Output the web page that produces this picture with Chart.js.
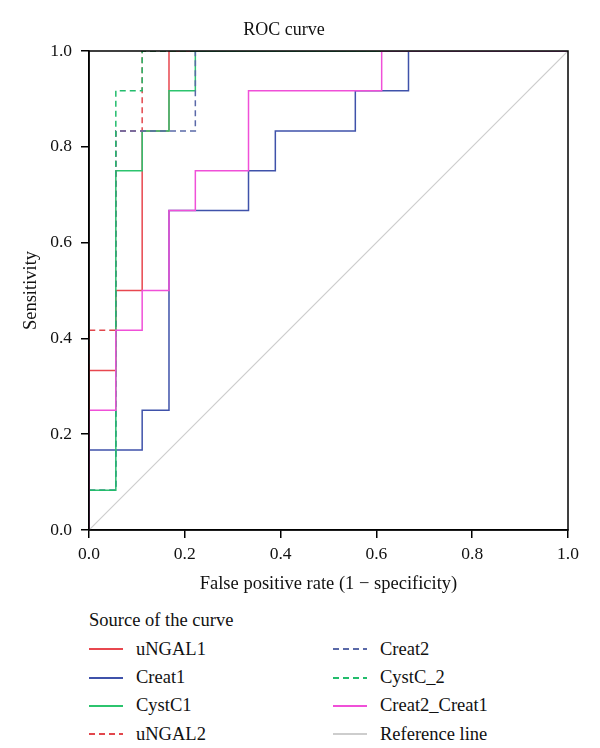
<!DOCTYPE html>
<html>
<head>
<meta charset="utf-8">
<title>ROC curve</title>
<script src="https://cdn.jsdelivr.net/npm/chart.js@4.4.1/dist/chart.umd.min.js"></script>
<style>
  body { margin: 0; background: #fff; font-family: "Liberation Serif", serif; }
  #wrap { position: relative; width: 600px; height: 748px; }
  #roc { position: absolute; left: 0; top: 0; }
  #legend { position: absolute; left: 89px; top: 607px; color: #111; font-size: 18.5px; }
  #legend .head { height: 28px; line-height: 26px; }
  #legend .grid { display: grid; grid-template-rows: repeat(4, 28.4px); grid-auto-flow: column; grid-template-columns: 244px 220px; }
  #legend .item { display: flex; align-items: center; }
  #legend svg { width: 34px; height: 6px; margin-right: 13px; }
</style>
</head>
<body>
<div id="wrap">
  <canvas id="roc" width="600" height="600"></canvas>
  <div id="legend"></div>
</div>
<script>
// ROC points (false positive rate, sensitivity)
const uNGAL1_fpr = [0, 0, 0.056, 0.056, 0.111, 0.111, 0.167, 0.167, 1];
const uNGAL1_tpr = [0, 0.333, 0.333, 0.5, 0.5, 0.833, 0.833, 1, 1];

const Creat1_fpr = [0, 0, 0.111, 0.111, 0.167, 0.167, 0.333, 0.333, 0.389, 0.389, 0.556, 0.556, 0.667, 0.667, 1];
const Creat1_tpr = [0, 0.167, 0.167, 0.25, 0.25, 0.667, 0.667, 0.75, 0.75, 0.833, 0.833, 0.917, 0.917, 1, 1];

const CystC1_fpr = [0, 0, 0.056, 0.056, 0.111, 0.111, 0.167, 0.167, 0.222, 0.222, 1];
const CystC1_tpr = [0, 0.083, 0.083, 0.75, 0.75, 0.833, 0.833, 0.917, 0.917, 1, 1];

const uNGAL2_fpr = [0, 0, 0.056, 0.056, 0.111, 0.111, 1];
const uNGAL2_tpr = [0, 0.417, 0.417, 0.833, 0.833, 1, 1];

const Creat2_fpr = [0, 0, 0.056, 0.056, 0.222, 0.222, 1];
const Creat2_tpr = [0, 0.083, 0.083, 0.833, 0.833, 1, 1];

const CystC_2_fpr = [0, 0, 0.056, 0.056, 0.111, 0.111, 1];
const CystC_2_tpr = [0, 0.083, 0.083, 0.917, 0.917, 1, 1];

const Creat2_Creat1_fpr = [0, 0, 0.056, 0.056, 0.111, 0.111, 0.167, 0.167, 0.222, 0.222, 0.333, 0.333, 0.611, 0.611, 1];
const Creat2_Creat1_tpr = [0, 0.25, 0.25, 0.417, 0.417, 0.5, 0.5, 0.667, 0.667, 0.75, 0.75, 0.917, 0.917, 1, 1];

const refLine_fpr = [0, 1];
const refLine_tpr = [0, 1];

const axisTicks = [0, 0.2, 0.4, 0.6, 0.8, 1.0];

// legend order = drawing order (later ones end up on top, like the original)
const curves = [
  { name: 'uNGAL1', fpr: uNGAL1_fpr, tpr: uNGAL1_tpr, color: '#e8474f', dash: [] },
  { name: 'Creat1', fpr: Creat1_fpr, tpr: Creat1_tpr, color: '#3f52aa', dash: [] },
  { name: 'CystC1', fpr: CystC1_fpr, tpr: CystC1_tpr, color: '#2cc46e', dash: [] },
  { name: 'uNGAL2', fpr: uNGAL2_fpr, tpr: uNGAL2_tpr, color: '#e2474d', dash: [6, 4] },
  { name: 'Creat2', fpr: Creat2_fpr, tpr: Creat2_tpr, color: '#5a69a8', dash: [6, 4] },
  { name: 'CystC_2', fpr: CystC_2_fpr, tpr: CystC_2_tpr, color: '#22bc6c', dash: [6, 4] },
  { name: 'Creat2_Creat1', fpr: Creat2_Creat1_fpr, tpr: Creat2_Creat1_tpr, color: '#f050d8', dash: [] },
  { name: 'Reference line', fpr: refLine_fpr, tpr: refLine_tpr, color: '#cdcdcd', dash: [] }
];

Chart.defaults.font.family = '"Liberation Serif", serif';
Chart.defaults.color = '#111';

const datasets = curves.map((c, i) => ({
  label: c.name,
  data: c.fpr.map((x, k) => ({ x: x, y: c.tpr[k] })),
  borderColor: c.color,
  borderDash: c.dash,
  borderWidth: c.name === 'Reference line' ? 1.2 : 1.5,
  pointRadius: 0,
  tension: 0,
  fill: false,
  order: curves.length - i
}));

// closed black frame on top of the curves
const framePlugin = {
  id: 'frame',
  afterDatasetsDraw(chart) {
    const a = chart.chartArea;
    const ctx = chart.ctx;
    ctx.save();
    ctx.strokeStyle = '#000';
    ctx.lineWidth = 1.5;
    ctx.strokeRect(a.left, a.top, a.right - a.left, a.bottom - a.top);
    ctx.restore();
  }
};

new Chart(document.getElementById('roc'), {
  type: 'line',
  data: { datasets },
  plugins: [framePlugin],
  options: {
    responsive: false,
    animation: false,
    layout: { padding: { right: 32, left: 0, bottom: 0 } },
    plugins: {
      legend: { display: false },
      tooltip: { enabled: false },
      title: {
        display: true,
        text: 'ROC curve',
        color: '#111',
        font: { size: 18, weight: 'normal', lineHeight: 1 },
        padding: { top: 21, bottom: 12 }
      }
    },
    scales: {
      x: {
        type: 'linear',
        min: 0, max: 1,
        afterBuildTicks: s => { s.ticks = axisTicks.map(v => ({ value: v })); },
        afterFit: s => { s.height = 70; s.paddingLeft = 0; s.paddingRight = 0; },
        grid: { drawOnChartArea: false, drawTicks: true, tickLength: 8, color: '#000', lineWidth: 1.5 },
        border: { color: '#000', width: 1.5 },
        ticks: { callback: v => v.toFixed(1), font: { size: 17.5 }, color: '#111', padding: 6, maxRotation: 0 },
        title: { display: true, text: 'False positive rate (1 − specificity)', font: { size: 18.5 }, color: '#111', padding: { top: 0, bottom: 5 } }
      },
      y: {
        type: 'linear',
        min: 0, max: 1,
        afterBuildTicks: s => { s.ticks = axisTicks.map(v => ({ value: v })); },
        afterFit: s => { s.width = 89; },
        grid: { drawOnChartArea: false, drawTicks: true, tickLength: 8, color: '#000', lineWidth: 1.5 },
        border: { color: '#000', width: 1.5 },
        ticks: { callback: v => v.toFixed(1), font: { size: 17.5 }, color: '#111', padding: 9 },
        title: { display: true, text: 'Sensitivity', font: { size: 18.5 }, color: '#111', padding: { top: 20, bottom: 0 } }
      }
    }
  }
});

// legend: title plus two columns, filled column by column
const legend = document.getElementById('legend');
let html = '<div class="head">Source of the curve</div><div class="grid">';
curves.forEach(c => {
  const dash = c.dash.length ? ` stroke-dasharray="${c.dash.join(',')}"` : '';
  html += `<div class="item"><svg viewBox="0 0 34 6"><line x1="0" y1="3" x2="34" y2="3" stroke="${c.color}" stroke-width="2"${dash}/></svg><span>${c.name}</span></div>`;
});
html += '</div>';
legend.innerHTML = html;
</script>
</body>
</html>
